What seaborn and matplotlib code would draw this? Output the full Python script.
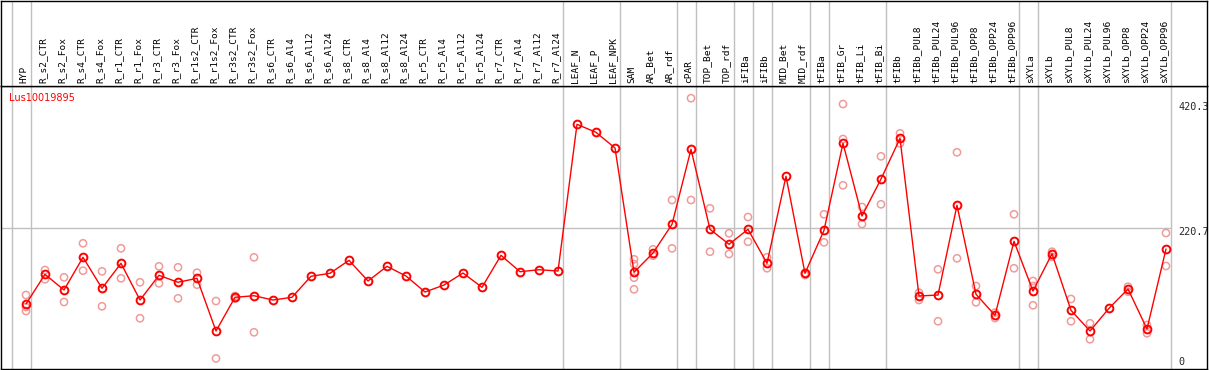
import numpy as np
import pandas as pd
import matplotlib
matplotlib.use("Agg")
import matplotlib.pyplot as plt
import matplotlib.transforms as mtransforms
import seaborn as sns

# Expression profile of one gene across tissue / treatment samples
gene = "Lus10019895"

samples = [
    "HYP",
    "R_s2_CTR", "R_s2_Fox", "R_s4_CTR", "R_s4_Fox", "R_r1_CTR", "R_r1_Fox",
    "R_r3_CTR", "R_r3_Fox", "R_r1s2_CTR", "R_r1s2_Fox", "R_r3s2_CTR", "R_r3s2_Fox",
    "R_s6_CTR", "R_s6_Al4", "R_s6_Al12", "R_s6_Al24",
    "R_s8_CTR", "R_s8_Al4", "R_s8_Al12", "R_s8_Al24",
    "R_r5_CTR", "R_r5_Al4", "R_r5_Al12", "R_r5_Al24",
    "R_r7_CTR", "R_r7_Al4", "R_r7_Al12", "R_r7_Al24",
    "LEAF_N", "LEAF_P", "LEAF_NPK",
    "SAM", "AR_Bet", "AR_rdf", "cPAR", "TOP_Bet", "TOP_rdf",
    "iFIBa", "iFIBb", "MID_Bet", "MID_rdf",
    "tFIBa", "tFIB_Gr", "tFIB_Li", "tFIB_Bi",
    "tFIBb", "tFIBb_PUL8", "tFIBb_PUL24", "tFIBb_PUL96",
    "tFIBb_OPP8", "tFIBb_OPP24", "tFIBb_OPP96",
    "sXYLa", "sXYLb", "sXYLb_PUL8", "sXYLb_PUL24", "sXYLb_PUL96",
    "sXYLb_OPP8", "sXYLb_OPP24", "sXYLb_OPP96",
]

means = [
    104.6,
    150.1, 126.1, 176.2, 128.7, 167.0, 110.7,
    148.6, 137.9, 144.0, 63.2, 114.9, 117.3,
    110.7, 114.9, 147.1, 151.7,
    171.6, 139.9, 162.4, 147.5,
    123.0, 133.7, 152.1, 130.2,
    179.3, 154.1, 157.2, 155.2,
    380.2, 367.9, 343.9,
    153.2, 182.8, 226.8, 341.9, 219.2, 196.2,
    219.2, 167.0, 300.5, 151.7,
    217.6, 351.1, 239.6, 296.3,
    358.7, 116.9, 118.4, 256.0,
    119.5, 87.3, 200.8,
    124.5, 181.7, 94.9, 63.2, 98.0,
    127.6, 66.3, 189.0,
]

# individual replicates (empty where only the mean is shown)
replicates = [
    [118.4, 100.0, 93.9],
    [156.7, 142.5], [145.5, 107.7], [197.7, 155.7], [154.7, 101.1], [190.0, 144.0], [137.9, 82.7],
    [162.4, 136.3], [160.9, 113.3], [152.6, 134.2], [109.2, 21.1], [116.9, 113.0], [176.2, 61.2],
    [], [], [], [],
    [], [], [], [],
    [], [], [], [],
    [], [], [], [],
    [], [], [],
    [173.2, 165.9, 144.9, 127.1], [188.5, 178.7], [264.1, 190.0], [420.3, 264.1], [251.4, 184.8], [213.0, 181.3],
    [238.0, 200.1], [176.2, 159.4], [], [149.1, 152.0],
    [242.2, 199.2], [411.3, 357.7, 286.7], [253.4, 227.3], [331.1, 257.5],
    [366.4, 351.0], [121.9, 110.7], [157.8, 78.1], [337.3, 174.7],
    [132.2, 107.2], [91.3, 83.1], [242.2, 159.4],
    [139.9, 132.2, 102.6], [184.8, 177.1], [112.3, 78.1], [75.0, 50.5], [],
    [131.1, 123.5], [72.4, 59.7], [213.5, 162.9],
]

# number of samples in each block separated by grey lines
group_sizes = [1, 28, 3, 3, 1, 2, 1, 1, 2, 1, 3, 7, 1, 7]

sns.set_style("white")
plt.rcParams['font.family'] = ['DejaVu Sans']

pos = np.arange(len(samples))
mean_df = pd.DataFrame({'pos': pos, 'expr': means})
rep_df = pd.DataFrame([(i, v) for i, vals in enumerate(replicates) for v in vals],
                      columns=['pos', 'expr'])

all_vals = pd.concat([mean_df['expr'], rep_df['expr']])
hi, lo = all_vals.max(), all_vals.min()
mid = (hi + lo) / 2

fig = plt.figure(figsize=(12.09, 3.70), dpi=100)
ax = fig.add_axes([1 / 1209, 1 / 370, 1206 / 1209, 283 / 370])
ax_lab = fig.add_axes([1 / 1209, 284 / 370, 1206 / 1209, 85.5 / 370])

xlim = (-1.316, 62.158)
for a in (ax, ax_lab):
    a.set_xlim(*xlim)
    a.set_xticks([])
    a.set_yticks([])
    for sp in a.spines.values():
        sp.set_color('black')
        sp.set_linewidth(1)
ax.set_ylim(4.9, 439.0)
ax_lab.set_ylim(0, 1)

# group separators
seps = [-1 + 0.24] + [c - 1 + 0.24 for c in np.cumsum(group_sizes)]
for s in seps:
    ax.axvline(s, color='#c0c0c0', lw=1, zorder=1)
    ax_lab.axvline(s, color='#c0c0c0', lw=1, zorder=1)

ax.hlines(mid, xlim[0], seps[-1], color='#c0c0c0', lw=1, zorder=1)

sns.scatterplot(data=rep_df, x='pos', y='expr', ax=ax, marker='o', s=27,
                facecolor='none', edgecolor='#f09a9a', linewidth=1.1, zorder=3)
sns.lineplot(data=mean_df, x='pos', y='expr', ax=ax, color='red', lw=1,
             errorbar=None, marker='o', markersize=5.6, markerfacecolor='none',
             markeredgecolor='red', markeredgewidth=1.4, zorder=4)
ax.set_xlabel('')
ax.set_ylabel('')

# sample names, vertical
trans = mtransforms.blended_transform_factory(ax_lab.transData, ax_lab.transAxes)
for i, name in enumerate(samples):
    ax_lab.text(i - 0.13, 0.04, name, rotation=90, ha='center', va='bottom',
                transform=trans, fontfamily='DejaVu Sans Mono', fontsize=6.8,
                color='black')

ax.text(0.0069, 0.958, gene, transform=ax.transAxes, color='red',
        fontsize=7, va='center', ha='left')

for frac, val in [(0.926, f"{hi:.1f}"), (0.485, f"{mid:.1f}"), (0.025, "0")]:
    ax.text(0.976, frac, val, transform=ax.transAxes, fontfamily='DejaVu Sans Mono',
            fontsize=7.3, va='center', ha='left', clip_on=True)

fig.savefig('out.png', dpi=100)
